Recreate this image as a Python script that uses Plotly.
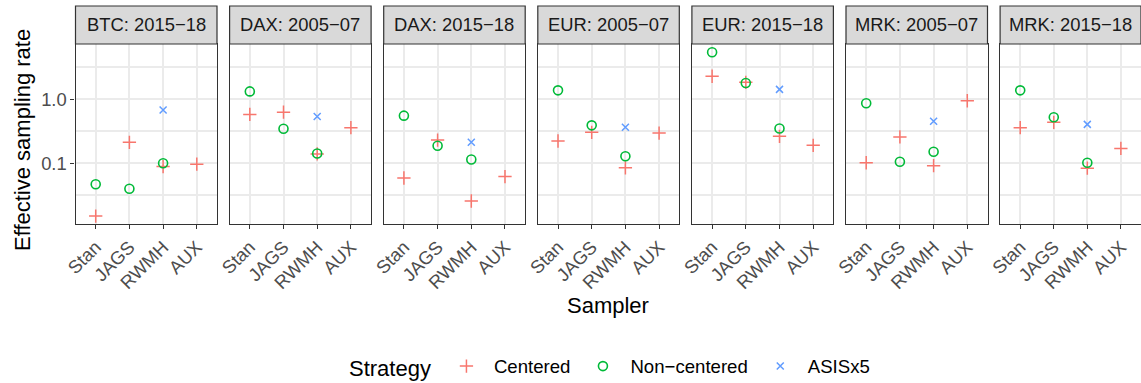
import plotly.graph_objects as go

# ---- data -----------------------------------------------------------------
panels = ["BTC: 2015−18", "DAX: 2005−07", "DAX: 2015−18", "EUR: 2005−07",
          "EUR: 2015−18", "MRK: 2005−07", "MRK: 2015−18"]
samplers = ["Stan", "JAGS", "RWMH", "AUX"]

# Centered parameterisation: Stan, JAGS, RWMH, AUX
centered = [
    [0.015, 0.213, 0.089, 0.097],
    [0.58, 0.63, 0.14, 0.36],
    [0.059, 0.231, 0.0258, 0.062],
    [0.223, 0.305, 0.085, 0.297],
    [2.29, 1.84, 0.264, 0.191],
    [0.102, 0.258, 0.092, 0.95],
    [0.36, 0.437, 0.084, 0.171],
]
# Non-centered parameterisation: Stan, JAGS, RWMH
noncentered_samplers = ["Stan", "JAGS", "RWMH"]
noncentered = [
    [0.047, 0.040, 0.100],
    [1.33, 0.347, 0.142],
    [0.555, 0.188, 0.115],
    [1.38, 0.392, 0.129],
    [5.42, 1.80, 0.35],
    [0.866, 0.106, 0.152],
    [1.38, 0.523, 0.102],
]
# ASIS interweaving (RWMH only)
asis_samplers = ["RWMH"]
asis = [0.68, 0.54, 0.213, 0.365, 1.43, 0.453, 0.406]

y_ticks = [0.1, 1.0]
y_ticklabels = ["0.1", "1.0"]

# ---- layout geometry ------------------------------------------------------
W, H = 1141, 383
FONT = "Liberation Sans, Arial, Helvetica, sans-serif"
TXT, TTL = 18.4, 22
C_CEN, C_NC, C_ASIS = "#F8766D", "#00BA38", "#619CFF"
GRID = "#EBEBEB"
DARK = "#333333"

panel_left0 = 75.5
panel_w = 141.5
pitch = 154.1
plot_top, plot_bot = 44, 224
strip_top = 6

fig = go.Figure()

for i, name in enumerate(panels):
    ax = "" if i == 0 else str(i + 1)
    xref, yref = "x" + ax, "y" + ax
    show = i == 0
    fig.add_trace(go.Scatter(
        x=samplers, y=centered[i], mode="markers", name="Centered",
        legendgroup="c", showlegend=show, xaxis=xref, yaxis=yref,
        marker=dict(symbol="cross-thin", size=9.5, color=C_CEN,
                    line=dict(color=C_CEN, width=1.5)),
        cliponaxis=False))
    fig.add_trace(go.Scatter(
        x=noncentered_samplers, y=noncentered[i], mode="markers",
        name="Non−centered", legendgroup="n", showlegend=show,
        xaxis=xref, yaxis=yref,
        marker=dict(symbol="circle-open", size=9, color=C_NC,
                    line=dict(color=C_NC, width=1.6)),
        cliponaxis=False))
    fig.add_trace(go.Scatter(
        x=asis_samplers, y=[asis[i]], mode="markers", name="ASISx5",
        legendgroup="a", showlegend=show, xaxis=xref, yaxis=yref,
        marker=dict(symbol="x-thin", size=7, color=C_ASIS,
                    line=dict(color=C_ASIS, width=1.5)),
        cliponaxis=False))

    x0 = (panel_left0 + i * pitch) / W
    x1 = (panel_left0 + i * pitch + panel_w) / W
    xa = dict(domain=[x0, min(x1, 1.0)], anchor=yref,
              type="category", categoryorder="array", categoryarray=samplers,
              range=[-0.6, 3.6], showgrid=True, gridcolor=GRID, gridwidth=2,
              zeroline=False, showline=True, mirror=True, linecolor=DARK,
              linewidth=1.2, ticks="outside", ticklen=4, tickcolor=DARK,
              tickwidth=1.2, tickangle=-45, automargin=False,
              tickfont=dict(family=FONT, size=TXT, color="#4D4D4D"))
    ya = dict(domain=[1 - plot_bot / H, 1 - plot_top / H], anchor=xref,
              type="log", range=[-1.948, 0.864],
              tickmode="array", tickvals=y_ticks, ticktext=y_ticklabels,
              showgrid=True, gridcolor=GRID, gridwidth=2, zeroline=False,
              showline=True, mirror=True, linecolor=DARK, linewidth=1.2,
              minor=dict(tickmode="array",
                         tickvals=[10 ** -1.5, 10 ** -0.5, 10 ** 0.5],
                         showgrid=True, gridcolor=GRID, gridwidth=1.6,
                         ticks=""),
              showticklabels=show, ticks="outside" if show else "",
              ticklen=4, tickcolor=DARK, tickwidth=1.2, automargin=False,
              tickfont=dict(family=FONT, size=TXT, color="#4D4D4D"))
    if i > 0:
        ya["matches"] = "y"
    fig.layout["xaxis" + ax] = xa
    fig.layout["yaxis" + ax] = ya

    # facet strip
    fig.add_shape(type="rect", xref=xref + " domain", yref="paper",
                  x0=0, x1=1, y0=1 - plot_top / H, y1=1 - strip_top / H,
                  fillcolor="#D9D9D9", line=dict(color=DARK, width=1.2),
                  layer="above")
    fig.add_annotation(text=name, xref=xref + " domain", yref="paper",
                       x=0.5, y=1 - (plot_top + strip_top) / 2 / H,
                       showarrow=False, xanchor="center", yanchor="middle",
                       font=dict(family=FONT, size=TXT, color="#1A1A1A"))

# axis titles
fig.add_annotation(text="Sampler", xref="paper", yref="paper",
                   x=608 / W, y=1 - 305 / H, showarrow=False,
                   xanchor="center", yanchor="middle",
                   font=dict(family=FONT, size=TTL, color="black"))
fig.add_annotation(text="Effective sampling rate", xref="paper", yref="paper",
                   x=22 / W, y=1 - 140 / H, showarrow=False, textangle=-90,
                   xanchor="center", yanchor="middle",
                   font=dict(family=FONT, size=TTL, color="black"))

fig.update_layout(
    width=W, height=H,
    margin=dict(l=0, r=0, t=0, b=0, autoexpand=False),
    paper_bgcolor="white", plot_bgcolor="white",
    font=dict(family=FONT),
    legend=dict(orientation="h", x=347 / W, xanchor="left",
                y=1 - 367 / H, yanchor="middle",
                title=dict(text="Strategy",
                           font=dict(family=FONT, size=TTL, color="black")),
                font=dict(family=FONT, size=18.6, color="black"),
                bgcolor="rgba(0,0,0,0)", itemwidth=45),
)

fig.write_html("out.html")
